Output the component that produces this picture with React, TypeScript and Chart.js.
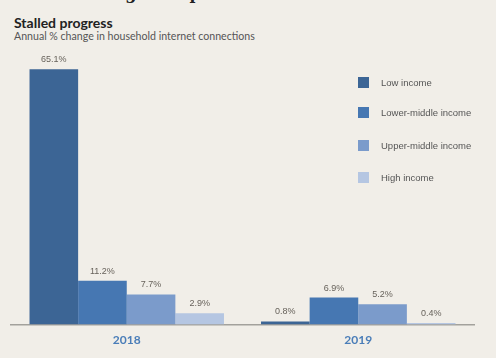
import React, { useEffect, useRef } from "react";
import { Chart, registerables } from "chart.js";

Chart.register(...registerables);

const categories = ["2018", "2019"];
const seriesNames = ["Low income", "Lower-middle income", "Upper-middle income", "High income"];
const lowIncome = [65.1, 0.8];
const lowerMiddle = [11.2, 6.9];
const upperMiddle = [7.7, 5.2];
const highIncome = [2.9, 0.4];
const seriesColors = ["#3c6595", "#4677b2", "#7b9bcb", "#b5c6e2"];

const BG = "#f1eee8";

const labelPlugin = {
  id: "valueLabels",
  afterDatasetsDraw(chart: any) {
    const ctx = chart.ctx;
    ctx.save();
    ctx.font = "9px 'Liberation Sans'";
    ctx.fillStyle = "#67625b";
    ctx.textAlign = "center";
    ctx.textBaseline = "bottom";
    chart.data.datasets.forEach((ds: any, i: number) => {
      const meta = chart.getDatasetMeta(i);
      meta.data.forEach((bar: any, j: number) => {
        const v = ds.data[j];
        ctx.fillText(v.toFixed(1) + "%", bar.x, bar.y - 5);
      });
    });
    ctx.restore();
  },
};

export default function App() {
  const ref = useRef<HTMLCanvasElement>(null);
  useEffect(() => {
    document.body.style.margin = "0";
    const values = [lowIncome, lowerMiddle, upperMiddle, highIncome];
    const chart = new Chart(ref.current!, {
      type: "bar",
      data: {
        labels: categories,
        datasets: seriesNames.map((n, i) => ({
          label: n,
          data: values[i],
          backgroundColor: seriesColors[i],
          borderWidth: 0,
          categoryPercentage: 0.84,
          barPercentage: 1,
        })),
      },
      options: {
        animation: false,
        responsive: false,
        maintainAspectRatio: false,
        layout: { padding: { left: 11, right: 22, top: 50, bottom: 3 } },
        plugins: { legend: { display: false }, tooltip: { enabled: false } },
        scales: {
          y: { display: false, min: 0, max: 70 },
          x: {
            grid: { display: false, drawTicks: false },
            border: { display: true, color: "#a3a19c", width: 1.5 },
            ticks: {
              padding: 8,
              color: "#4a7db8",
              font: { family: "Lato", size: 12, weight: "bold" },
            },
          },
        },
      },
      plugins: [labelPlugin],
    });
    return () => chart.destroy();
  }, []);

  const legendTops = [77, 107, 140, 172];

  return (
    <div
      style={{
        position: "fixed",
        left: 0,
        top: 0,
        width: 496,
        height: 358,
        background: BG,
        overflow: "hidden",
        fontFamily: "Lato",
      }}
    >
      <div style={{ position: "absolute", left: 0, top: 0, width: 496, height: 5, overflow: "hidden" }}>
        <div
          style={{
            position: "absolute",
            left: 13,
            top: -16,
            fontFamily: "'DejaVu Serif', serif",
            fontWeight: "bold",
            fontSize: 16,
            color: "#222",
            whiteSpace: "nowrap",
          }}
        >
          in 4G coverage compared with 2019.
        </div>
      </div>
      <div
        style={{
          position: "absolute",
          left: 14,
          top: 14,
          fontWeight: "bold",
          fontSize: 14,
          color: "#222",
          whiteSpace: "nowrap",
        }}
      >
        Stalled progress
      </div>
      <div
        style={{
          position: "absolute",
          left: 14,
          top: 30,
          fontSize: 10.6,
          color: "#555",
          whiteSpace: "nowrap",
        }}
      >
        Annual % change in household internet connections
      </div>
      <canvas ref={ref} width={496} height={358} style={{ position: "absolute", left: 0, top: 0 }} />
      {seriesNames.map((n, i) => (
        <div
          key={n}
          style={{ position: "absolute", left: 358, top: legendTops[i], display: "flex", alignItems: "center" }}
        >
          <div style={{ width: 11, height: 11, background: seriesColors[i] }} />
          <div
            style={{
              marginLeft: 12,
              fontSize: 9.5,
              fontFamily: "'Liberation Sans'",
              color: "#555",
              whiteSpace: "nowrap",
            }}
          >
            {n}
          </div>
        </div>
      ))}
    </div>
  );
}
